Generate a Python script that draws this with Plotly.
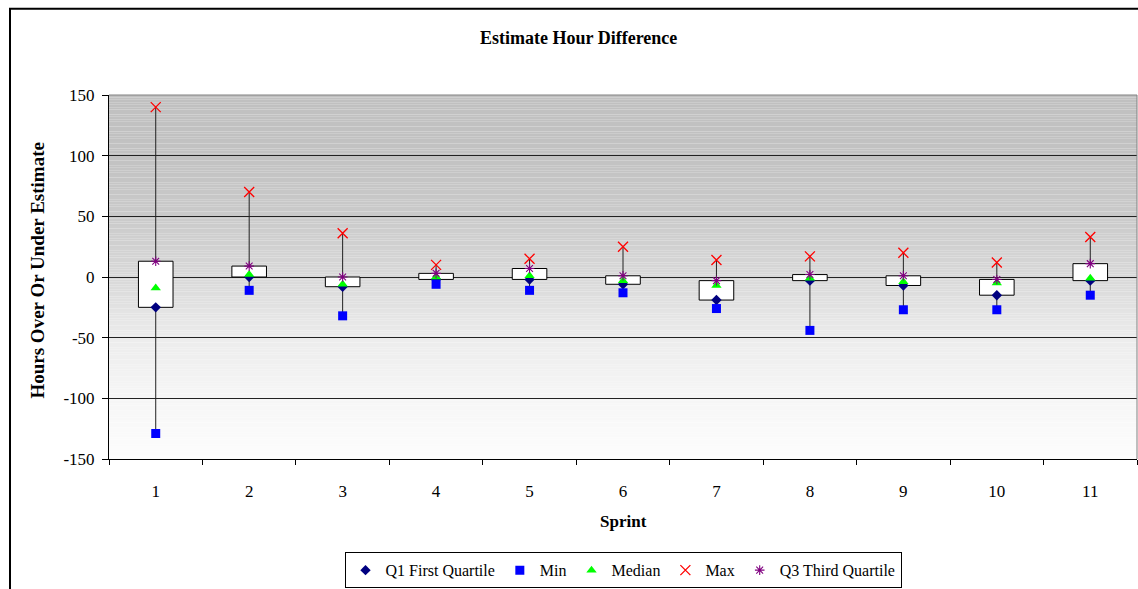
import plotly.graph_objects as go
import numpy as np

sprints = ["1", "2", "3", "4", "5", "6", "7", "8", "9", "10", "11"]
q1_vals = [-25, 0, -8, -2, -2, -6, -19, -3, -7, -15, -3]
min_vals = [-129, -11, -32, -6, -11, -13, -26, -44, -27, -27, -15]
median_vals = [-9, 2, -6, 0, 1, -3, -7, -1, -4, -5, -1]
max_vals = [140, 70, 36, 10, 15, 25, 14, 17, 20, 12, 33]
q3_vals = [13, 9, 0, 3, 7, 1, -3, 2, 1, -2, 11]
y_ticks = [-150, -100, -50, 0, 50, 100, 150]
y_tick_labels = ["-150", "-100", "-50", "0", "50", "100", "150"]

FONT = "Liberation Serif"
W, H = 1138, 589
L, R, T, B = 109, 1, 95, 127
PW, PH = W - L - R, H - T - B

def px_x(p):
    return (p - L) / PW

def px_y(p):
    return (H - B - p) / PH

fig = go.Figure()

# whiskers (drawn as two segments so the box stays clean)
wx, wy = [], []
for s, lo, a, b, hi in zip(sprints, min_vals, q1_vals, q3_vals, max_vals):
    wx += [s, s, None, s, s, None]
    wy += [lo, a, None, b, hi, None]
fig.add_trace(go.Scatter(x=wx, y=wy, mode="lines", line=dict(color="#222222", width=1),
                         showlegend=False, hoverinfo="skip"))

# boxes Q1..Q3
fig.add_trace(go.Bar(x=sprints, y=[b - a for a, b in zip(q1_vals, q3_vals)], base=q1_vals,
                     width=0.37, marker=dict(color="white", line=dict(color="black", width=1)),
                     showlegend=False, hoverinfo="skip"))

fig.add_trace(go.Scatter(x=sprints, y=q1_vals, mode="markers", name="Q1 First Quartile",
                         marker=dict(symbol="diamond", color="#000080", size=8)))
fig.add_trace(go.Scatter(x=sprints, y=min_vals, mode="markers", name="Min",
                         marker=dict(symbol="square", color="#0000ff", size=9)))
fig.add_trace(go.Scatter(x=sprints, y=median_vals, mode="markers", name="Median",
                         marker=dict(symbol="triangle-up", color="#00ff00", size=9)))
fig.add_trace(go.Scatter(x=sprints, y=max_vals, mode="markers", name="Max",
                         marker=dict(symbol="x-thin", size=10, color="#ff0000",
                                     line=dict(color="#ff0000", width=1.3))))
fig.add_trace(go.Scatter(x=sprints, y=q3_vals, mode="markers", name="Q3 Third Quartile",
                         marker=dict(symbol="asterisk", size=8, color="#800080",
                                     line=dict(color="#800080", width=1.1))))

# gradient background
stops_y = [150, 100, 50, 0, -50, -100, -150]
stops_g = [192, 194, 202, 216, 236, 246, 253]
shapes = []
step = 2
for y0 in np.arange(-150, 150, step):
    g = int(round(np.interp(y0 + step / 2, stops_y[::-1], stops_g[::-1])))
    c = f"rgb({g},{g},{g})"
    shapes.append(dict(type="rect", xref="paper", yref="y", x0=0, x1=1, y0=float(y0), y1=float(y0 + step),
                       fillcolor=c, line=dict(width=0, color=c), layer="below"))
# top & right plot border (gray)
shapes.append(dict(type="line", xref="paper", yref="paper", x0=0, x1=1, y0=1, y1=1,
                   line=dict(color="#808080", width=1), layer="above"))
shapes.append(dict(type="line", xref="paper", yref="paper", x0=1, x1=1, y0=0, y1=1,
                   line=dict(color="#808080", width=1), layer="above"))
# outer chart frame
shapes.append(dict(type="rect", xref="paper", yref="paper",
                   x0=px_x(10), x1=px_x(W + 20), y0=px_y(H + 20), y1=px_y(8),
                   line=dict(color="black", width=2), fillcolor="rgba(0,0,0,0)", layer="above"))

annotations = [
    dict(text="<b>Estimate Hour Difference</b>", xref="paper", yref="paper",
         x=px_x(578), y=px_y(38), showarrow=False, font=dict(family=FONT, size=18, color="black"),
         xanchor="center", yanchor="middle"),
    dict(text="<b>Sprint</b>", xref="paper", yref="paper",
         x=px_x(623), y=px_y(525), showarrow=False, font=dict(family=FONT, size=17, color="black"),
         xanchor="center", yanchor="middle"),
    dict(text="<b>Hours Over Or Under Estimate</b>", xref="paper", yref="paper", textangle=-90,
         x=px_x(38), y=px_y(272), showarrow=False, font=dict(family=FONT, size=19, color="black"),
         xanchor="center", yanchor="middle"),
]

fig.update_layout(
    width=W, height=H,
    margin=dict(l=L, r=R, t=T, b=B, pad=0),
    paper_bgcolor="white", plot_bgcolor="white",
    font=dict(family=FONT, size=17, color="black"),
    shapes=shapes, annotations=annotations,
    barmode="overlay",
    legend=dict(orientation="h", x=0.5, xanchor="center", y=px_y(556), yanchor="top",
                bordercolor="black", borderwidth=1, bgcolor="white",
                font=dict(family=FONT, size=16, color="black"),
                itemwidth=30, tracegroupgap=0),
    xaxis=dict(type="category", categoryorder="array", categoryarray=sprints,
               range=[-0.5, 10.5], showgrid=False, zeroline=False,
               showline=True, linecolor="black", linewidth=1,
               ticks="outside", tickson="boundaries", ticklen=5, tickcolor="black",
               ticklabelstandoff=17, fixedrange=True),
    yaxis=dict(range=[-150, 150], tickvals=y_ticks, ticktext=y_tick_labels,
               showgrid=True, gridcolor="#222222", gridwidth=1,
               zeroline=False, showline=True, linecolor="black", linewidth=1,
               ticks="outside", ticklen=6, tickcolor="black", ticklabelstandoff=4, fixedrange=True),
)

fig.write_html("out.html")
